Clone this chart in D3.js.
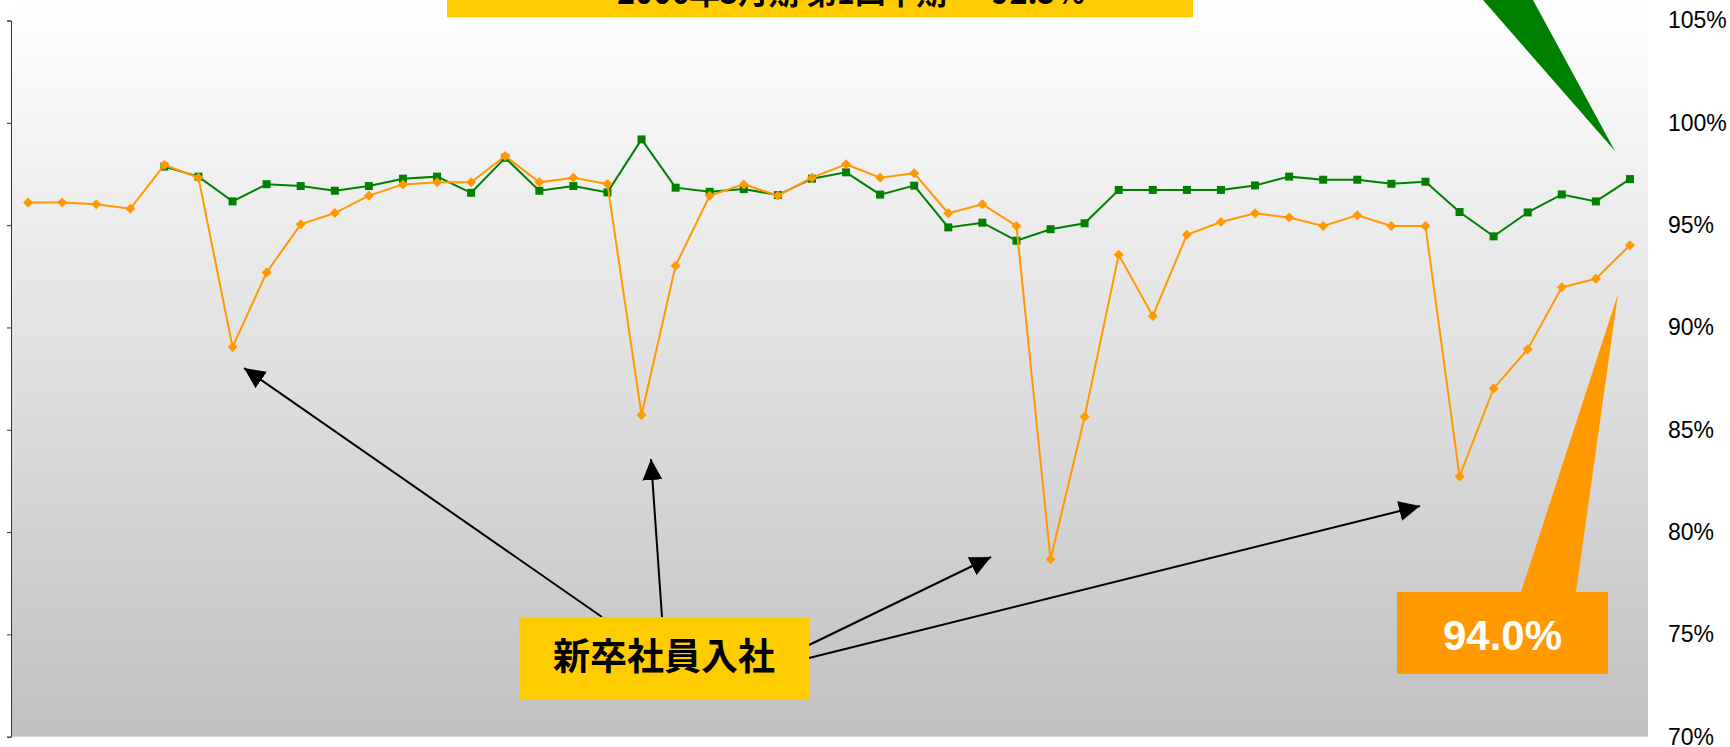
<!DOCTYPE html>
<html>
<head>
<meta charset="utf-8">
<script src="https://cdn.jsdelivr.net/npm/d3@7"></script>
<style>
  body { margin: 0; background: #ffffff; }
  svg { display: block; }
  .yRight text { font-family: "Liberation Sans", Arial, sans-serif; font-size: 23px; fill: #000; }
  .yLeft path, .yLeft line { stroke: #333; }
</style>
</head>
<body>
<svg id="chart" width="1730" height="747"></svg>
<script>
// monthly rates (48 months)
var rateOrange = [96.11, 96.11, 96.02, 95.8, 97.94, 97.32, 89.04, 92.69, 95.04, 95.59, 96.44, 96.99,
                  97.09, 97.09, 98.38, 97.09, 97.32, 97.01, 85.72, 93.02, 96.44, 96.99, 96.44, 97.32,
                  97.97, 97.32, 97.53, 95.58, 96.02, 94.96, 78.67, 85.64, 93.55, 90.56, 94.53, 95.15,
                  95.58, 95.37, 94.96, 95.48, 94.96, 94.96, 82.72, 87.02, 88.94, 91.96, 92.38, 94.02];
var rateGreen = [null, null, null, null, 97.86, 97.37, 96.16, 97.0, 96.91, 96.68, 96.91, 97.27,
                 97.37, 96.58, 98.29, 96.68, 96.91, 96.6, 99.19, 96.83, 96.63, 96.76, 96.47, 97.27,
                 97.58, 96.49, 96.93, 94.89, 95.12, 94.24, 94.8, 95.09, 96.72, 96.72, 96.72, 96.72,
                 96.94, 97.37, 97.22, 97.22, 97.02, 97.12, 95.64, 94.45, 95.62, 96.5, 96.16, 97.25];
var yTicks = [70, 75, 80, 85, 90, 95, 100, 105];
var titleText = "2006年3月期 第1四半期 ～ 92.5%";
var noteText = "新卒社員入社";
var lastLabel = "94.0%";

const svg = d3.select("#chart"),
    plot = {left: 11, right: 1647, top: 20.5, bottom: 736.7};

const months = rateOrange.map(function (d, i) { return i; });

// Scales
const x = d3.scaleBand()
    .domain(months)
    .range([plot.left, plot.right]);
const cx = function (i) { return x(i) + x.bandwidth() / 2; };

const y = d3.scaleLinear()
    .domain([70, 105])
    .range([plot.bottom, plot.top]);

// grey gradient background of plot area
const grad = svg.append("defs").append("linearGradient")
    .attr("id", "bg").attr("x1", 0).attr("y1", 0).attr("x2", 0).attr("y2", 1);
grad.append("stop").attr("offset", "0%").attr("stop-color", "#ffffff");
grad.append("stop").attr("offset", "100%").attr("stop-color", "#c0c0c0");

svg.append("rect")
    .attr("x", plot.left)
    .attr("y", 0)
    .attr("width", plot.right - plot.left + 1)
    .attr("height", plot.bottom)
    .attr("fill", "url(#bg)");

// left axis: ticks only
svg.append("g")
    .attr("class", "yLeft")
    .attr("transform", "translate(" + plot.left + ",0)")
    .call(d3.axisLeft(y).tickValues(yTicks).tickSize(4).tickSizeOuter(4).tickFormat(""));

// right axis: labels only
const yR = svg.append("g")
    .attr("class", "yRight")
    .attr("transform", "translate(" + (plot.right + 1) + ",0)")
    .call(d3.axisRight(y).tickValues(yTicks).tickSize(0).tickPadding(20)
        .tickFormat(function (d) { return d + "%"; }));
yR.select(".domain").remove();
yR.selectAll("text").attr("font-family", null).attr("font-size", null);

// series
function drawSeries(values, color, shape) {
    const pts = values.map(function (v, i) { return {i: i, v: v}; })
        .filter(function (d) { return d.v !== null; });

    svg.append("path")
        .datum(pts)
        .attr("fill", "none")
        .attr("stroke", color)
        .attr("stroke-width", 2)
        .attr("d", d3.line()
            .x(function (d) { return cx(d.i); })
            .y(function (d) { return y(d.v); }));

    svg.append("g").selectAll("path")
        .data(pts)
        .enter().append("path")
        .attr("fill", color)
        .attr("transform", function (d) { return "translate(" + cx(d.i) + "," + y(d.v) + ")"; })
        .attr("d", shape);
}
drawSeries(rateGreen, "#008000", "M-4,-4H4V4H-4Z");
drawSeries(rateOrange, "#ff9900", "M0,-5L5,0L0,5L-5,0Z");

// title box, mostly cut off at the top
svg.append("rect")
    .attr("x", 447).attr("y", -60)
    .attr("width", 746).attr("height", 77.3)
    .attr("fill", "#ffcc00");
svg.append("text")
    .attr("x", 617).attr("y", 4)
    .attr("textLength", 468).attr("lengthAdjust", "spacingAndGlyphs")
    .style("font-family", "'Noto Sans CJK JP', sans-serif")
    .style("font-weight", "bold")
    .style("font-size", "32px")
    .text(titleText);

// green callout pointer (box above the page)
svg.append("polygon")
    .attr("points", [[1483, 0], [1533, 0], [cx(47) - 15, 151]].join(" "))
    .attr("fill", "#008000");

// orange callout with last value
const last = rateOrange.length - 1;
svg.append("polygon")
    .attr("points", [[1521, 592], [1576, 592], [cx(last) - 12, 294]].join(" "))
    .attr("fill", "#ff9900");
svg.append("rect")
    .attr("x", 1397).attr("y", 592)
    .attr("width", 211).attr("height", 82)
    .attr("fill", "#ff9900");
svg.append("text")
    .attr("x", 1502.5).attr("y", 650)
    .attr("text-anchor", "middle")
    .style("font-family", "'Liberation Sans', Arial, sans-serif")
    .style("font-weight", "bold")
    .style("font-size", "42px")
    .attr("fill", "#ffffff")
    .text(lastLabel);

// arrows to the April dips
const defs = svg.select("defs");
defs.append("marker")
    .attr("id", "arrow")
    .attr("viewBox", "0 0 21 20")
    .attr("refX", 21).attr("refY", 10)
    .attr("markerWidth", 21).attr("markerHeight", 20)
    .attr("markerUnits", "userSpaceOnUse")
    .attr("orient", "auto")
    .append("path")
    .attr("d", "M0,0L21,10L0,20Z")
    .attr("fill", "#000");

var arrows = [
    [602, 617, 244, 368],
    [662, 617, 651, 459],
    [809, 645, 991, 557],
    [809, 658, 1420, 506]
];
svg.append("g").selectAll("line")
    .data(arrows)
    .enter().append("line")
    .attr("x1", function (d) { return d[0]; })
    .attr("y1", function (d) { return d[1]; })
    .attr("x2", function (d) { return d[2]; })
    .attr("y2", function (d) { return d[3]; })
    .attr("stroke", "#000")
    .attr("stroke-width", 2)
    .attr("marker-end", "url(#arrow)");

svg.append("rect")
    .attr("x", 519).attr("y", 617)
    .attr("width", 290).attr("height", 82)
    .attr("fill", "#ffcc00");
svg.append("text")
    .attr("x", 664).attr("y", 670)
    .attr("text-anchor", "middle")
    .style("font-family", "'Noto Sans CJK JP', sans-serif")
    .style("font-weight", "bold")
    .style("font-size", "37px")
    .text(noteText);
</script>
</body>
</html>
